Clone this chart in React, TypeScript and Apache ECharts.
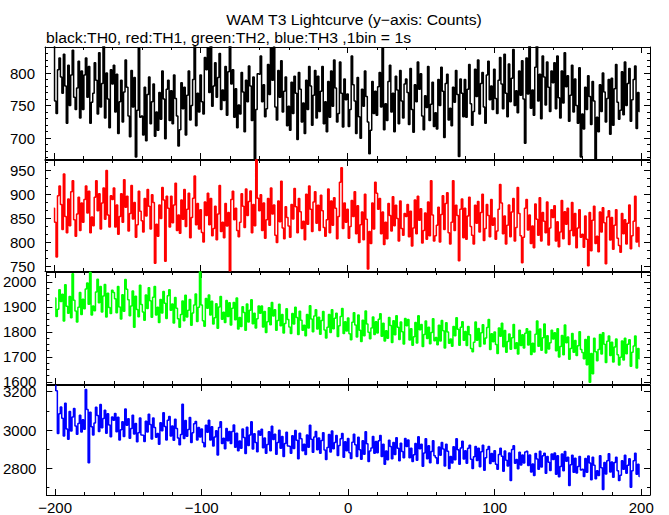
import React, { useEffect, useRef } from "react";
import * as echarts from "echarts";

// Time axis: 1 bin = 1 s, first bin at t = -200 s
const TIME_START = -200;
const BIN_SIZE = 1;

// TH0 (black) counts per bin
const th0: number[] = [
  846, 757, 738, 805, 823, 794, 769, 829, 780, 723, 812, 750, 797, 835, 763, 744, 777, 818, 731, 803,
  744, 797, 823, 763, 810, 723, 755, 769, 816, 789, 737, 831, 748, 784, 845, 731, 800, 760, 716, 805,
  783, 812, 740, 798, 707, 756, 789, 725, 771, 820, 778, 734, 702, 804, 748, 793, 671, 743, 838, 732,
  734, 705, 778, 696, 767, 794, 722, 756, 783, 703, 740, 712, 770, 729, 803, 760, 699, 775, 789, 727,
  773, 722, 797, 761, 734, 688, 713, 785, 745, 778, 705, 766, 803, 728, 750, 790, 845, 719, 769, 740,
  797, 756, 737, 824, 805, 839, 770, 845, 749, 780, 816, 763, 793, 830, 744, 774, 758, 810, 735, 802,
  842, 783, 805, 732, 776, 716, 751, 737, 801, 771, 710, 789, 756, 811, 780, 727, 794, 668, 744, 799,
  798, 826, 756, 782, 733, 745, 813, 767, 838, 789, 840, 748, 728, 804, 763, 819, 740, 772, 794, 719,
  749, 712, 786, 738, 795, 769, 698, 801, 775, 725, 754, 707, 789, 744, 810, 780, 720, 766, 804, 731,
  795, 741, 772, 810, 722, 756, 710, 787, 732, 803, 749, 820, 777, 725, 738, 817, 769, 717, 791, 759,
  768, 718, 744, 826, 782, 757, 707, 793, 733, 700, 775, 749, 803, 764, 725, 676, 712, 787, 738, 772,
  735, 779, 801, 748, 838, 713, 753, 727, 787, 812, 740, 769, 710, 795, 774, 722, 804, 757, 731, 783,
  791, 770, 721, 807, 744, 709, 782, 756, 817, 775, 799, 734, 713, 765, 747, 810, 727, 752, 786, 718,
  739, 714, 790, 750, 809, 772, 701, 784, 798, 728, 746, 719, 778, 755, 804, 767, 672, 791, 769, 733,
  790, 732, 775, 813, 753, 720, 741, 806, 764, 820, 737, 784, 801, 748, 723, 797, 818, 759, 780, 744,
  806, 761, 738, 789, 824, 783, 745, 829, 769, 733, 814, 756, 792, 836, 750, 773, 739, 803, 766, 819,
  760, 692, 823, 768, 841, 746, 774, 735, 809, 845, 757, 798, 730, 826, 794, 751, 817, 778, 741, 803,
  785, 816, 745, 826, 762, 731, 803, 754, 831, 779, 796, 726, 766, 812, 740, 791, 750, 723, 808, 671,
  737, 714, 778, 744, 796, 764, 721, 787, 757, 668, 732, 710, 782, 741, 800, 771, 725, 761, 790, 706,
  792, 720, 776, 813, 755, 729, 743, 802, 736, 817, 750, 784, 807, 726, 759, 790, 811, 715, 770, 741,
];

// TH1 (red) counts per bin
const th1: number[] = [
  871, 842, 770, 897, 917, 879, 827, 942, 854, 820, 890, 835, 905, 928, 847, 813, 859, 894, 825, 882,
  842, 889, 917, 861, 906, 820, 853, 835, 894, 928, 866, 901, 828, 882, 913, 848, 949, 857, 832, 897,
  889, 913, 832, 878, 817, 854, 901, 842, 930, 873, 896, 824, 860, 918, 849, 883, 811, 837, 906, 865,
  845, 822, 891, 855, 910, 875, 828, 899, 883, 757, 838, 813, 878, 850, 914, 888, 761, 896, 871, 832,
  896, 841, 878, 923, 825, 857, 819, 888, 848, 910, 833, 869, 902, 810, 852, 892, 938, 837, 881, 828,
  868, 821, 801, 884, 856, 902, 837, 891, 814, 829, 875, 806, 859, 918, 823, 842, 810, 881, 834, 862,
  741, 889, 906, 847, 871, 825, 812, 842, 901, 875, 831, 911, 856, 885, 907, 820, 879, 835, 975, 892,
  866, 899, 825, 882, 809, 847, 891, 836, 913, 859, 878, 815, 800, 886, 843, 927, 830, 808, 874, 852,
  834, 811, 879, 849, 912, 874, 820, 891, 864, 829, 844, 806, 900, 838, 917, 869, 823, 884, 905, 840,
  877, 825, 898, 866, 831, 813, 847, 911, 820, 886, 836, 893, 871, 808, 854, 925, 955, 829, 882, 842,
  869, 809, 833, 887, 854, 905, 818, 876, 800, 837, 863, 806, 900, 848, 745, 823, 798, 882, 828, 925,
  902, 869, 891, 818, 863, 796, 842, 808, 881, 856, 824, 895, 835, 877, 850, 803, 886, 829, 815, 860,
  854, 879, 812, 865, 793, 830, 888, 818, 896, 846, 870, 799, 825, 861, 807, 884, 814, 928, 857, 803,
  814, 836, 873, 801, 858, 897, 827, 881, 903, 820, 797, 842, 928, 825, 877, 856, 762, 869, 890, 810,
  871, 807, 855, 894, 833, 815, 797, 877, 840, 885, 822, 862, 900, 804, 829, 879, 856, 812, 889, 836,
  851, 807, 824, 869, 920, 882, 818, 855, 797, 836, 878, 812, 863, 891, 803, 831, 914, 860, 814, 758,
  811, 871, 889, 826, 857, 798, 834, 789, 880, 848, 815, 893, 803, 862, 844, 820, 884, 795, 830, 868,
  852, 876, 803, 843, 791, 822, 887, 808, 864, 838, 871, 796, 825, 883, 814, 860, 789, 830, 868, 811,
  817, 790, 855, 807, 752, 862, 783, 846, 875, 798, 813, 781, 863, 822, 872, 841, 756, 853, 866, 805,
  852, 786, 836, 868, 809, 794, 780, 860, 818, 847, 797, 840, 878, 787, 814, 844, 896, 801, 831, 792,
];

// TH2 (green) counts per bin
const th2: number[] = [
  1935, 1861, 1890, 1968, 1921, 1950, 1843, 1988, 1902, 1874, 1941, 1856, 2032, 1926, 1883, 1839, 1898, 1957, 1869, 1930,
  1892, 1971, 1995, 1910, 2038, 1867, 1903, 1884, 1959, 2010, 1916, 1981, 1879, 1943, 1989, 1859, 1954, 1897, 1873, 1966,
  1957, 1932, 1876, 1981, 1899, 1851, 1948, 1882, 2009, 1970, 1928, 1864, 1903, 1963, 1818, 1942, 1889, 1860, 1986, 1909,
  1879, 1846, 1947, 1893, 1976, 1924, 1858, 1938, 1981, 1867, 1898, 1837, 1929, 1875, 1961, 1914, 1853, 1944, 1968, 1886,
  1911, 1835, 1937, 1894, 1852, 1818, 1869, 1923, 1844, 1946, 1859, 1886, 1929, 1826, 1875, 1907, 1951, 1841, 1898, 2041,
  1907, 1844, 1822, 1933, 1894, 1947, 1867, 1922, 1831, 1856, 1912, 1814, 1899, 1941, 1850, 1878, 1837, 1925, 1861, 1916,
  1827, 1894, 1917, 1848, 1935, 1811, 1857, 1821, 1900, 1877, 1806, 1911, 1839, 1886, 1928, 1832, 1874, 1815, 1852, 1903,
  1874, 1903, 1819, 1881, 1797, 1840, 1896, 1828, 1917, 1863, 1888, 1806, 1845, 1910, 1824, 1869, 1795, 1833, 1892, 1849,
  1819, 1793, 1873, 1831, 1898, 1857, 1789, 1882, 1846, 1806, 1826, 1784, 1869, 1815, 1904, 1851, 1800, 1863, 1888, 1811,
  1858, 1790, 1845, 1881, 1807, 1775, 1818, 1869, 1797, 1888, 1812, 1854, 1874, 1781, 1824, 1861, 1893, 1793, 1840, 1803,
  1855, 1792, 1768, 1838, 1876, 1827, 1779, 1867, 1806, 1761, 1846, 1784, 1883, 1831, 1798, 1772, 1815, 1859, 1789, 1840,
  1795, 1850, 1872, 1782, 1834, 1763, 1804, 1774, 1857, 1825, 1757, 1844, 1788, 1864, 1818, 1769, 1839, 1800, 1751, 1853,
  1824, 1849, 1767, 1812, 1746, 1780, 1837, 1755, 1864, 1808, 1829, 1741, 1789, 1843, 1773, 1818, 1752, 1797, 1852, 1764,
  1777, 1748, 1826, 1763, 1845, 1804, 1735, 1836, 1799, 1754, 1771, 1742, 1821, 1784, 1856, 1810, 1746, 1818, 1840, 1766,
  1801, 1745, 1821, 1788, 1733, 1720, 1758, 1839, 1766, 1813, 1741, 1796, 1828, 1751, 1775, 1817, 1849, 1729, 1792, 1760,
  1799, 1749, 1713, 1815, 1782, 1834, 1740, 1805, 1718, 1761, 1791, 1730, 1776, 1829, 1733, 1756, 1711, 1806, 1745, 1788,
  1735, 1794, 1812, 1747, 1802, 1709, 1754, 1719, 1790, 1843, 1742, 1811, 1726, 1776, 1831, 1715, 1784, 1731, 1756, 1806,
  1771, 1796, 1724, 1812, 1699, 1741, 1785, 1708, 1827, 1756, 1779, 1690, 1733, 1793, 1718, 1765, 1705, 1744, 1800, 1729,
  1717, 1692, 1769, 1668, 1781, 1598, 1713, 1632, 1774, 1720, 1684, 1729, 1789, 1711, 1796, 1750, 1677, 1762, 1783, 1705,
  1758, 1679, 1739, 1771, 1708, 1667, 1698, 1763, 1687, 1774, 1712, 1750, 1768, 1662, 1718, 1743, 1783, 1655, 1733, 1692,
];

// TH3 (blue) counts per bin
const th3: number[] = [
  3232, 3205, 2982, 3085, 3120, 3062, 2969, 3140, 3006, 2952, 3097, 2995, 3068, 3113, 3021, 2978, 3034, 3078, 2990, 3054,
  3005, 3212, 3107, 2830, 3093, 3018, 2975, 3037, 3119, 3076, 2993, 3134, 3012, 3060, 3103, 2984, 3085, 3026, 2965, 3068,
  3051, 3086, 2991, 3067, 2948, 3002, 3044, 2967, 3110, 3025, 3059, 2957, 3009, 3078, 2980, 3034, 2940, 2986, 3063, 2974,
  2973, 2941, 3046, 2990, 3082, 3029, 2954, 3063, 3014, 2963, 2982, 2927, 3038, 2997, 3090, 3019, 2948, 3051, 3071, 2969,
  3022, 2947, 3057, 3008, 2959, 2924, 2977, 3135, 2956, 3050, 2968, 3003, 3066, 2935, 2986, 3033, 3045, 2949, 3014, 2964,
  3006, 2935, 2913, 3025, 2989, 3051, 2949, 3018, 2917, 2964, 2997, 2870, 3014, 3043, 2930, 2958, 2903, 3008, 2945, 2993,
  2930, 2993, 3027, 2911, 2984, 2892, 2943, 2906, 3006, 2962, 2878, 3015, 2920, 2974, 3043, 2901, 2981, 2935, 2887, 2996,
  2973, 3004, 2908, 2959, 2879, 2925, 2992, 2893, 3020, 2951, 2978, 2874, 2935, 2999, 2905, 2967, 2862, 2930, 2989, 2917,
  2916, 2879, 2970, 2904, 2998, 2947, 2851, 2984, 2955, 2892, 2927, 2873, 2975, 2911, 3025, 2952, 2885, 2964, 2993, 2898,
  2959, 2880, 2946, 2986, 2897, 2847, 2909, 2977, 2886, 2996, 2903, 2936, 2972, 2868, 2920, 2955, 2983, 2859, 2940, 2892,
  2956, 2882, 2852, 2937, 2978, 2924, 2863, 2963, 2898, 2848, 2945, 2874, 2992, 2929, 2836, 2891, 2907, 2967, 2879, 2941,
  2882, 2945, 2972, 2862, 2926, 2822, 2891, 2845, 2947, 2914, 2851, 2935, 2873, 2960, 2905, 2840, 2931, 2888, 2856, 2956,
  2914, 2948, 2856, 2906, 2836, 2872, 2930, 2843, 2966, 2903, 2926, 2812, 2881, 2955, 2851, 2918, 2830, 2889, 2945, 2866,
  2856, 2826, 2912, 2869, 2936, 2901, 2813, 2927, 2890, 2800, 2863, 2829, 2913, 2845, 2955, 2898, 2822, 2907, 2942, 2849,
  2893, 2827, 2906, 2921, 2848, 2800, 2861, 2915, 2842, 2906, 2809, 2887, 2921, 2791, 2856, 2899, 2915, 2826, 2878, 2836,
  2893, 2822, 2796, 2873, 2906, 2864, 2786, 2891, 2843, 2813, 2881, 2738, 2899, 2919, 2827, 2847, 2799, 2885, 2818, 2871,
  2829, 2886, 2890, 2816, 2871, 2782, 2823, 2764, 2878, 2849, 2796, 2890, 2808, 2866, 2879, 2775, 2862, 2832, 2789, 2875,
  2847, 2881, 2770, 2866, 2757, 2811, 2876, 2788, 2888, 2838, 2858, 2712, 2819, 2869, 2781, 2853, 2776, 2810, 2863, 2792,
  2796, 2759, 2852, 2781, 2865, 2829, 2742, 2858, 2817, 2747, 2788, 2764, 2867, 2804, 2690, 2831, 2771, 2840, 2877, 2782,
  2834, 2754, 2831, 2858, 2788, 2737, 2765, 2841, 2796, 2869, 2775, 2817, 2851, 2702, 2788, 2841, 2880, 2770, 2822, 2759,
];

const TITLE = "WAM T3 Lightcurve (y\u2212axis: Counts)";
const SUBTITLE = "black:TH0, red:TH1, green:TH2, blue:TH3 ,1bin = 1s";

const FONT = '"Liberation Sans", Arial, Helvetica, sans-serif';

const panels = [
  { data: th0, color: "#000000", min: 668, max: 840, step: 50, minorSplit: 5, top: 47, height: 112 },
  { data: th1, color: "#ff0000", min: 741, max: 971, step: 50, minorSplit: 3, top: 160, height: 111 },
  { data: th2, color: "#00ff00", min: 1591, max: 2039, step: 100, minorSplit: 4, top: 272, height: 112 },
  { data: th3, color: "#0000ff", min: 2662, max: 3235, step: 200, minorSplit: 2, top: 385, height: 111 },
];

const X_MIN = -206;
const X_MAX = 206;

export default function App() {
  const ref = useRef<HTMLDivElement>(null);

  useEffect(() => {
    if (!ref.current) return;
    const chart = echarts.init(ref.current, undefined, { renderer: "svg" });

    const axisLine = { show: true, onZero: false, lineStyle: { color: "#000", width: 1 } };
    const grids: any[] = [];
    const xAxes: any[] = [];
    const yAxes: any[] = [];
    const series: any[] = [];

    panels.forEach((p, i) => {
      grids.push({ left: 45, right: 19, top: p.top, height: p.height, containLabel: false });
      ["bottom", "top"].forEach((pos) => {
        xAxes.push({
          type: "value",
          gridIndex: i,
          position: pos,
          min: X_MIN,
          max: X_MAX,
          minInterval: 100,
          maxInterval: 100,
          axisLine,
          axisTick: { show: true, inside: true, length: 6, lineStyle: { color: "#000", width: 1 } },
          minorTick: { show: true, splitNumber: 5, length: 3, lineStyle: { color: "#000", width: 1 } },
          splitLine: { show: false },
          axisLabel: {
            show: pos === "bottom" && i === panels.length - 1,
            showMinLabel: false,
            showMaxLabel: false,
            margin: 5,
            color: "#000",
            fontSize: 15,
            fontFamily: FONT,
            formatter: (v: number) => String(v).replace("-", "\u2212"),
          },
        });
      });
      ["left", "right"].forEach((pos) => {
        yAxes.push({
          type: "value",
          gridIndex: i,
          position: pos,
          min: p.min,
          max: p.max,
          minInterval: p.step,
          maxInterval: p.step,
          axisLine,
          axisTick: { show: true, inside: true, length: 6, lineStyle: { color: "#000", width: 1 } },
          minorTick: { show: true, splitNumber: p.minorSplit, length: 3, lineStyle: { color: "#000", width: 1 } },
          splitLine: { show: false },
          axisLabel: {
            show: pos === "left",
            showMinLabel: false,
            showMaxLabel: false,
            margin: 10,
            color: "#000",
            fontSize: 15,
            fontFamily: FONT,
            formatter: (v: number) => String(v),
          },
        });
      });
      series.push({
        type: "line",
        xAxisIndex: i * 2,
        yAxisIndex: i * 2,
        data: p.data.map((v, k) => [TIME_START + k * BIN_SIZE, v]),
        showSymbol: false,
        symbol: "none",
        step: "middle",
        clip: true,
        lineStyle: { color: p.color, width: 1.5 },
        emphasis: { disabled: true },
      });
    });

    chart.setOption({
      animation: false,
      backgroundColor: "#ffffff",
      grid: grids,
      xAxis: xAxes,
      yAxis: yAxes,
      series,
      graphic: [
        {
          type: "text",
          x: 354,
          y: 19.5,
          scaleX: 1.05,
          style: {
            text: TITLE,
            fill: "#000",
            font: `15px ${FONT}`,
            align: "center",
            verticalAlign: "middle",
            textAlign: "center",
            textVerticalAlign: "middle",
          },
        },
        {
          type: "text",
          x: 46,
          y: 38,
          scaleX: 1.05,
          style: {
            text: SUBTITLE,
            fill: "#000",
            font: `15px ${FONT}`,
            align: "left",
            verticalAlign: "middle",
            textAlign: "left",
            textVerticalAlign: "middle",
          },
        },
      ],
    });

    return () => chart.dispose();
  }, []);

  return (
    <div
      ref={ref}
      style={{ position: "absolute", left: 0, top: 0, width: 669, height: 515, background: "#fff" }}
    />
  );
}
